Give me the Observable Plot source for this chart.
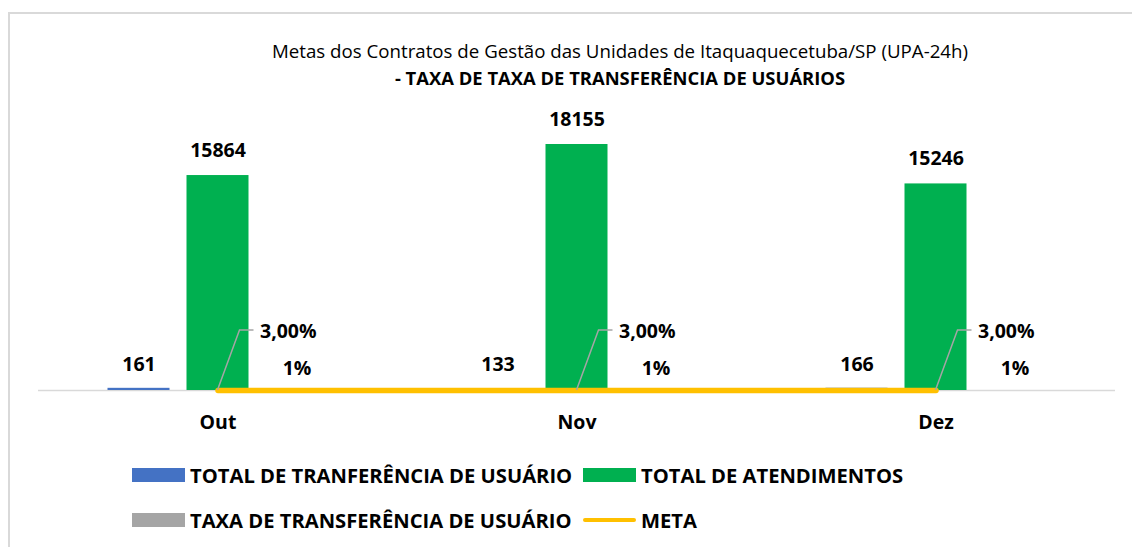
<!DOCTYPE html>
<html>
<head>
<meta charset="utf-8">
<script src="https://cdn.jsdelivr.net/npm/d3@7"></script>
<script src="https://cdn.jsdelivr.net/npm/@observablehq/plot@0.6"></script>
<style>
  html, body { margin: 0; padding: 0; background: #fff; }
  #wrap { position: relative; width: 1132px; height: 547px; overflow: hidden; font-family: "Open Sans", sans-serif; color: #000; }
  #frame { position: absolute; left: 8px; top: 12px; right: -10px; bottom: -10px; border-left: 2px solid #D9D9D9; border-top: 2px solid #D9D9D9; }
  .title { position: absolute; left: 620px; transform: translate(-50%, -50%); white-space: nowrap; }
  #chart { position: absolute; left: 0; top: 0; }
  .leg { position: absolute; white-space: nowrap; font-weight: bold; font-size: 20.2px; transform: translateY(-50%); }
  .sw { position: absolute; }
</style>
</head>
<body>
<div id="wrap">
  <div id="frame"></div>
  <div id="chart"></div>
  <div class="title" id="t1" style="top:50px;font-size:18.7px;"></div>
  <div class="title" id="t2" style="top:77px;font-size:18.4px;font-weight:bold;"></div>
  <div id="legend"></div>
</div>
<script>
// ---- data ----
const titleText = "Metas dos Contratos de Gestão das Unidades de Itaquaquecetuba/SP (UPA-24h)";
const subtitleText = "- TAXA DE TAXA DE TRANSFERÊNCIA DE USUÁRIOS";
const months = ["Out", "Nov", "Dez"];
const transferencias = [161, 133, 166];
const atendimentos = [15864, 18155, 15246];
const taxa = [0.01, 0.01, 0.01];
const meta = [0.03, 0.03, 0.03];
const seriesNames = ["TOTAL DE TRANFERÊNCIA DE USUÁRIO", "TOTAL DE ATENDIMENTOS", "TAXA DE TRANSFERÊNCIA DE USUÁRIO", "META"];
const seriesColors = ["#4472C4", "#00B050", "#A5A5A5", "#FFC000"];

const rows = months.map((m, i) => ({
  month: m, transf: transferencias[i], atend: atendimentos[i], taxa: taxa[i], meta: meta[i]
}));

document.getElementById("t1").textContent = titleText;
document.getElementById("t2").textContent = subtitleText;

const fmtPct0 = d3.format(".0%");
const fmtMeta = d => d3.format(".2%")(d).replace(".", ",");

const barW = 62, step = 79;
const bandW = (1115 - 38) / months.length;
const inset = (bandW - barW) / 2;
const labelFont = 19.5;

const leaders = (index, scales) => {
  const x = scales.x, y = scales.y;
  const bw = typeof x.bandwidth === "function" ? x.bandwidth() : (x.bandwidth || 0);
  const g = d3.create("svg:g");
  rows.forEach(r => {
    const cx = x(r.month) + bw / 2;
    const cy = y(r.meta);
    g.append("path")
      .attr("d", `M${cx},${cy}L${cx + 22},${cy - 60}H${cx + 36}`)
      .attr("fill", "none")
      .attr("stroke", "#A5A5A5")
      .attr("stroke-width", 1.5);
  });
  return g.node();
};

const chart = Plot.plot({
  width: 1132,
  height: 547,
  marginLeft: 38,
  marginRight: 17,
  marginTop: 119,
  marginBottom: 157,
  style: { fontFamily: "Open Sans, sans-serif", color: "#000", background: "transparent", overflow: "visible" },
  x: { domain: months, padding: 0, axis: null, label: null },
  y: { domain: [0, 20000], axis: null },
  marks: [
    Plot.ruleY([0], { stroke: "#D9D9D9", strokeWidth: 1.5 }),
    Plot.barY(rows, { x: "month", y: "transf", fill: seriesColors[0], insetLeft: inset, insetRight: inset, dx: -step }),
    Plot.barY(rows, { x: "month", y: "atend", fill: seriesColors[1], insetLeft: inset, insetRight: inset }),
    Plot.barY(rows, { x: "month", y: "taxa", fill: seriesColors[2], insetLeft: inset, insetRight: inset, dx: step }),
    Plot.lineY(rows, { x: "month", y: "meta", stroke: seriesColors[3], strokeWidth: 5.5, dy: 0 }),
    leaders,
    Plot.text(rows, { x: "month", y: "transf", text: d => String(d.transf), dx: -step, dy: -24, fontSize: labelFont, fontWeight: "bold", fill: "#000" }),
    Plot.text(rows, { x: "month", y: "atend", text: d => String(d.atend), dy: -25, fontSize: labelFont, fontWeight: "bold", fill: "#000" }),
    Plot.text(rows, { x: "month", y: "taxa", text: d => fmtPct0(d.taxa), dx: step, dy: -22, fontSize: labelFont, fontWeight: "bold", fill: "#000" }),
    Plot.text(rows, { x: "month", y: "meta", text: d => fmtMeta(d.meta), dx: 42, dy: -59, textAnchor: "start", fontSize: labelFont, fontWeight: "bold", fill: "#000" }),
    Plot.axisX({ domain: months, tickSize: 0, tickPadding: 25, fontSize: 19.5, fontWeight: "bold", fill: "#000", label: null })
  ]
});
document.getElementById("chart").appendChild(chart);

// ---- legend ----
const legend = document.getElementById("legend");
const legPos = [[132, 475], [583, 475], [132, 520], [583, 520]];
seriesNames.forEach((name, i) => {
  const [lx, ly] = legPos[i];
  const sw = document.createElement("div");
  sw.className = "sw";
  const isLine = i === 3;
  sw.style.left = lx + "px";
  sw.style.width = "53px";
  sw.style.height = (isLine ? 4 : 14) + "px";
  sw.style.top = (ly - (isLine ? 2 : 7)) + "px";
  sw.style.background = seriesColors[i];
  if (isLine) sw.style.borderRadius = "2px";
  legend.appendChild(sw);
  const t = document.createElement("div");
  t.className = "leg";
  t.style.left = (lx + 58) + "px";
  t.style.top = ly + "px";
  t.textContent = name;
  legend.appendChild(t);
});
</script>
</body>
</html>
